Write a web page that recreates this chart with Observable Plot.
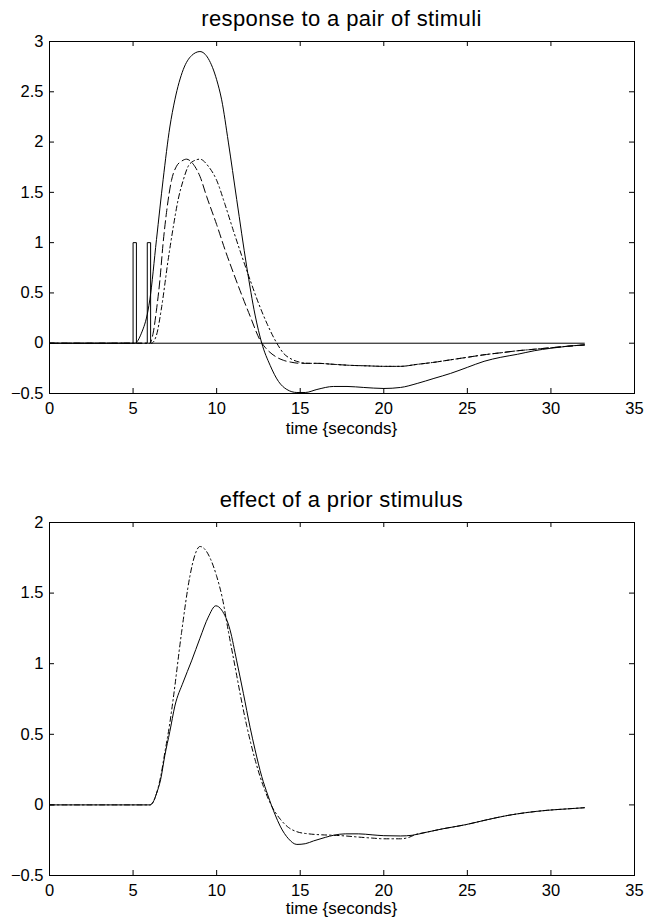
<!DOCTYPE html>
<html>
<head>
<meta charset="utf-8">
<script src="https://cdn.jsdelivr.net/npm/d3@7"></script>
<script src="https://cdn.jsdelivr.net/npm/@observablehq/plot@0.6"></script>
<style>
  html, body { margin: 0; padding: 0; background: #fff; overflow: hidden; }
  #page { position: relative; width: 645px; height: 920px; background: #fff; font-family: "Liberation Sans", Arial, Helvetica, sans-serif; color: #000; }
  .panel { position: absolute; left: 0; z-index: 1; }
  .title { position: absolute; z-index: 2; left: 49px; width: 585px; text-align: center; font-size: 22px; line-height: 22px; letter-spacing: 0.4px; white-space: nowrap; }
  .xlabel { position: absolute; z-index: 2; left: 49px; width: 585px; text-align: center; font-size: 17px; line-height: 17px; white-space: nowrap; }
</style>
</head>
<body>
<div id="page">
  <div class="panel" id="top" style="top:0px"></div>
  <div class="panel" id="bottom" style="top:460px"></div>
  <div class="title" style="top:8px">response to a pair of stimuli</div>
  <div class="xlabel" style="top:420px">time {seconds}</div>
  <div class="title" style="top:489px">effect of a prior stimulus</div>
  <div class="xlabel" style="top:900px">time {seconds}</div>
</div>
<script>
// ---- tick labels ----
const xTicks = [0, 5, 10, 15, 20, 25, 30, 35];
const yTicksTop = [-0.5, 0, 0.5, 1, 1.5, 2, 2.5, 3];
const yTicksBottom = [-0.5, 0, 0.5, 1, 1.5, 2];

// ---- top panel: response to a pair of stimuli ----
// stimulus train (two brief pulses)
const stimT = [0, 5.0, 5.0, 5.2, 5.2, 5.85, 5.85, 6.05, 6.05, 32];
const stimV = [0, 0, 1, 1, 0, 0, 1, 1, 0, 0];

// response to the pair (solid)
const sumT = [0, 5.1, 5.5, 5.9, 6.0, 6.4, 6.8, 7.2, 7.5, 8.0, 8.5, 9.0, 9.5, 10.0, 10.3, 10.7, 11.2, 11.8, 12.3, 12.7, 13.2, 13.7, 14.2, 14.8, 15.3, 16.0, 17.0, 17.8, 18.8, 20.0, 21.0, 22.0, 23.0, 24.0, 25.0, 26.0, 27.0, 28.0, 29.0, 30.0, 31.0, 32.0];
const sumV = [0, 0, 0.1, 0.33, 0.43, 1.03, 1.63, 2.15, 2.42, 2.72, 2.86, 2.90, 2.83, 2.62, 2.42, 2.0, 1.43, 0.76, 0.28, 0.0, -0.22, -0.38, -0.46, -0.49, -0.49, -0.46, -0.43, -0.43, -0.44, -0.45, -0.44, -0.40, -0.35, -0.30, -0.24, -0.18, -0.14, -0.11, -0.075, -0.05, -0.03, -0.017];

// single-stimulus response, earlier peak (dashed)
const firstT = [0, 6.0, 6.2, 6.4, 6.6, 6.8, 7.0, 7.3, 7.6, 7.9, 8.2, 8.6, 9.0, 9.4, 10.0, 10.5, 11.0, 11.5, 12.0, 12.6, 13.0, 13.5, 14.0, 14.5, 15.0, 16.0, 17.0, 18.0, 19.0, 20.0, 21.0, 22.0, 23.0, 24.0, 25.0, 26.0, 27.0, 28.0, 29.0, 30.0, 31.0, 32.0];
const firstV = [0, 0, 0.1, 0.33, 0.62, 1.0, 1.3, 1.62, 1.76, 1.81, 1.83, 1.78, 1.66, 1.46, 1.18, 0.93, 0.70, 0.48, 0.27, 0.03, -0.06, -0.13, -0.17, -0.19, -0.2, -0.2, -0.21, -0.22, -0.225, -0.23, -0.23, -0.21, -0.19, -0.165, -0.14, -0.115, -0.095, -0.075, -0.06, -0.045, -0.03, -0.017];

// single-stimulus response, later peak (dash-dot)
const secondT = [0, 6.1, 6.4, 6.7, 7.1, 7.4, 7.7, 8.0, 8.3, 8.6, 9.0, 9.5, 10.0, 10.5, 11.0, 11.5, 12.0, 12.5, 13.0, 13.6, 14.0, 14.5, 15.0, 15.5, 16.0, 17.0, 18.0, 19.0, 20.0, 21.0, 22.0, 23.0, 24.0, 25.0, 26.0, 27.0, 28.0, 29.0, 30.0, 31.0, 32.0];
const secondV = [0, 0, 0.08, 0.35, 0.83, 1.15, 1.43, 1.62, 1.76, 1.81, 1.83, 1.76, 1.62, 1.38, 1.12, 0.87, 0.63, 0.40, 0.2, 0.0, -0.1, -0.16, -0.19, -0.2, -0.2, -0.21, -0.22, -0.225, -0.23, -0.23, -0.21, -0.19, -0.165, -0.14, -0.115, -0.095, -0.075, -0.06, -0.045, -0.03, -0.017];

// ---- bottom panel: effect of a prior stimulus ----
// response with prior stimulus (solid)
const pairedT = [0, 6.0, 6.2, 6.4, 6.65, 6.9, 7.2, 7.5, 8.0, 8.5, 9.0, 9.5, 9.95, 10.3, 10.8, 11.2, 11.6, 12.0, 12.3, 12.7, 13.06, 13.5, 13.8, 14.3, 14.8, 15.3, 15.8, 16.5, 17.0, 17.7, 18.5, 19.3, 20.0, 21.0, 21.7, 22.5, 23.5, 24.9, 26.0, 27.4, 28.5, 29.8, 31.0, 32.0];
const pairedV = [0, 0, 0.02, 0.08, 0.18, 0.35, 0.52, 0.70, 0.87, 1.02, 1.18, 1.33, 1.41, 1.38, 1.24, 1.02, 0.79, 0.55, 0.39, 0.2, 0.07, -0.07, -0.15, -0.24, -0.28, -0.275, -0.255, -0.23, -0.215, -0.205, -0.205, -0.212, -0.218, -0.22, -0.215, -0.195, -0.17, -0.14, -0.11, -0.075, -0.055, -0.038, -0.028, -0.02];

// response without prior stimulus (dash-dot)
const singleT = [0, 6.0, 6.2, 6.4, 6.65, 6.9, 7.2, 7.4, 7.9, 8.4, 8.7, 9.0, 9.3, 9.6, 10.0, 10.35, 10.7, 11.1, 11.45, 11.8, 12.3, 12.8, 13.3, 13.8, 14.3, 14.8, 15.5, 16.3, 17.0, 17.7, 18.5, 19.3, 20.0, 21.0, 21.5, 21.9, 22.5, 23.5, 24.9, 26.0, 27.4, 28.5, 29.8, 31.0, 32.0];
const singleV = [0, 0, 0.02, 0.08, 0.2, 0.37, 0.58, 0.75, 1.22, 1.62, 1.77, 1.83, 1.81, 1.75, 1.62, 1.46, 1.23, 0.98, 0.76, 0.56, 0.32, 0.13, -0.01, -0.1, -0.16, -0.19, -0.205, -0.212, -0.215, -0.22, -0.228, -0.235, -0.24, -0.24, -0.23, -0.21, -0.195, -0.17, -0.14, -0.11, -0.075, -0.055, -0.038, -0.028, -0.02];

const rows = (t, v) => t.map((x, i) => ({t: x, v: v[i]}));
const fmt = d => (d < 0 ? "\u2212" : "") + String(Math.abs(d));

const W = 645, H = 460, ML = 49, MR = 11;
const frameW = W - ML - MR;

function boxAxes(yTicks, frameH) {
  const tick = 5;
  return [
    Plot.frame({stroke: "black", strokeWidth: 1}),
    Plot.tickX(xTicks, {x: d => d, insetTop: frameH - tick, stroke: "black"}),
    Plot.tickX(xTicks, {x: d => d, insetBottom: frameH - tick, stroke: "black"}),
    Plot.tickY(yTicks, {y: d => d, insetRight: frameW - tick, stroke: "black"}),
    Plot.tickY(yTicks, {y: d => d, insetLeft: frameW - tick, stroke: "black"}),
    Plot.axisX({ticks: xTicks, tickFormat: fmt, tickSize: 0, tickPadding: 9, label: null, fill: "black"}),
    Plot.axisY({ticks: yTicks, tickFormat: fmt, tickSize: 0, tickPadding: 6, label: null, fill: "black"})
  ];
}

const style = {fontFamily: "'Liberation Sans', Arial, Helvetica, sans-serif", fontSize: "16.5px", color: "black", background: "transparent", overflow: "visible"};
const solid = {x: "t", y: "v", stroke: "black", strokeWidth: 1, curve: "monotone-x"};

const topMT = 41, topMB = 67;
const topPlot = Plot.plot({
  width: W, height: H,
  marginLeft: ML, marginRight: MR, marginTop: topMT, marginBottom: topMB,
  style,
  x: {domain: [0, 35]},
  y: {domain: [-0.5, 3]},
  marks: [
    Plot.line(rows(stimT, stimV), {x: "t", y: "v", stroke: "black", strokeWidth: 1}),
    Plot.line(rows(firstT, firstV), {...solid, strokeDasharray: "8,4"}),
    Plot.line(rows(secondT, secondV), {...solid, strokeDasharray: "5,3,1.5,3"}),
    Plot.line(rows(sumT, sumV), solid),
    ...boxAxes(yTicksTop, H - topMT - topMB)
  ]
});
document.getElementById("top").appendChild(topPlot);

const botMT = 62, botMB = 45;
const bottomPlot = Plot.plot({
  width: W, height: H,
  marginLeft: ML, marginRight: MR, marginTop: botMT, marginBottom: botMB,
  style,
  x: {domain: [0, 35]},
  y: {domain: [-0.5, 2]},
  marks: [
    Plot.line(rows(singleT, singleV), {...solid, strokeDasharray: "5,3,1.5,3"}),
    Plot.line(rows(pairedT, pairedV), solid),
    ...boxAxes(yTicksBottom, H - botMT - botMB)
  ]
});
document.getElementById("bottom").appendChild(bottomPlot);
</script>
</body>
</html>
